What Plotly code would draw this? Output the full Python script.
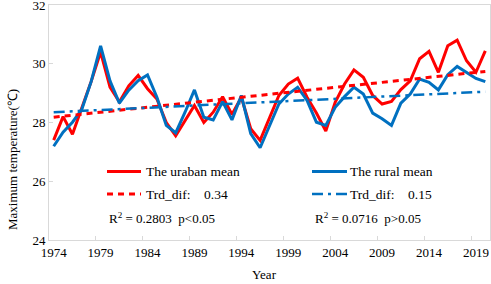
import plotly.graph_objects as go

years = list(range(1974, 2021))
urban = [27.4, 28.2, 27.6, 28.5, 29.4, 30.4, 29.2, 28.7, 29.25, 29.6,
         29.15, 28.8, 28.0, 27.55, 28.07, 28.58, 28.0, 28.35, 28.88, 28.27,
         28.86, 27.79, 27.39, 28.18, 28.92, 29.31, 29.51, 28.86, 28.32, 27.71,
         28.69, 29.31, 29.79, 29.54, 28.92, 28.63, 28.72, 29.12, 29.42, 30.17,
         30.42, 29.71, 30.61, 30.8, 30.1, 29.71, 30.44]
rural = [27.19, 27.67, 28.01, 28.45, 29.4, 30.61, 29.42, 28.66, 29.1, 29.42,
         29.62, 28.86, 27.9, 27.65, 28.35, 29.11, 28.18, 28.09, 28.71, 28.09,
         28.92, 27.62, 27.14, 27.9, 28.63, 28.97, 29.2, 28.75, 28.01, 27.9,
         28.52, 28.88, 29.2, 28.97, 28.32, 28.13, 27.9, 28.66, 28.97, 29.48,
         29.37, 29.11, 29.63, 29.91, 29.71, 29.5, 29.39]
trend_years = [1974, 2020]
urban_trend = [28.18, 29.74]
rural_trend = [28.35, 29.05]

tick_years = [1974, 1979, 1984, 1989, 1994, 1999, 2004, 2009, 2014, 2019]
y_ticks = [24, 26, 28, 30, 32]

RED = "#FF0000"
BLUE = "#0070C0"
FONT = "Liberation Serif"

fig = go.Figure()
fig.add_trace(go.Scatter(x=years, y=urban, mode="lines",
                         line=dict(color=RED, width=3), name="The uraban mean"))
fig.add_trace(go.Scatter(x=years, y=rural, mode="lines",
                         line=dict(color=BLUE, width=3), name="The rural mean"))
fig.add_trace(go.Scatter(x=trend_years, y=urban_trend, mode="lines",
                         line=dict(color=RED, width=3, dash="6px,5px")))
fig.add_trace(go.Scatter(x=trend_years, y=rural_trend, mode="lines",
                         line=dict(color=BLUE, width=2.5, dash="11px,5px,3px,5px")))

L, R, T, B = 49, 490, 5, 240
W, H = R - L, B - T


def px(x):
    return (x - L) / W


def py(y):
    return (B - y) / H


samples = [
    (107, 141, 171.5, RED, "solid", 3),
    (107, 141, 194, RED, "6px,5px", 3),
    (312, 347, 171.5, BLUE, "solid", 3),
    (312, 347, 194, BLUE, "11px,5px,3px,5px", 2.5),
]
for x0, x1, yy, c, d, w in samples:
    fig.add_shape(type="line", xref="paper", yref="paper",
                  x0=px(x0), x1=px(x1), y0=py(yy), y1=py(yy),
                  line=dict(color=c, width=w, dash=d))

texts = [
    (144, 171.5, "The uraban mean", 13.5),
    (144, 194, "Trd_dif:\u00a0\u00a0\u00a0\u00a00.34", 13.5),
    (107, 218, "R<sup>2</sup> = 0.2803\u00a0\u00a0p&lt;0.05", 13),
    (348, 171.5, "The rural mean", 13.5),
    (348, 194, "Trd_dif:\u00a0\u00a0\u00a0\u00a00.15", 13.5),
    (313, 218, "R<sup>2</sup> = 0.0716\u00a0\u00a0p&gt;0.05", 13),
]
for x, y, t, s in texts:
    fig.add_annotation(x=px(x), y=py(y), xref="paper", yref="paper",
                       text=t, showarrow=False, xanchor="left", yanchor="middle",
                       font=dict(family=FONT, size=s, color="black"))

fig.add_annotation(x=px(12), y=py(160), xref="paper", yref="paper",
                   text="Maximum temperature(℃)", textangle=-90, showarrow=False,
                   xanchor="center", yanchor="middle",
                   font=dict(family=FONT, size=13, color="black"))
fig.add_annotation(x=px(264), y=py(274), xref="paper", yref="paper",
                   text="Year", showarrow=False, xanchor="center", yanchor="middle",
                   font=dict(family=FONT, size=13, color="black"))

fig.update_xaxes(range=[1973.5, 2020.5], tickvals=tick_years,
                 ticktext=[str(v) for v in tick_years], ticks="",
                 automargin=False, ticklabeloverflow="allow",
                 showgrid=False, zeroline=False, showline=True, mirror=True,
                 linecolor="#D9D9D9", linewidth=1,
                 tickfont=dict(family=FONT, size=13, color="black"),
                 minor=dict(tickvals=[v - 0.5 for v in tick_years[1:]],
                            ticks="inside", ticklen=4, tickcolor="#D9D9D9",
                            showgrid=False))
fig.update_yaxes(range=[24, 32], tickvals=y_ticks, ticks="inside", ticklen=4,
                 automargin=False, ticklabeloverflow="allow",
                 tickcolor="#D9D9D9", showgrid=False, zeroline=False,
                 showline=True, mirror=True, linecolor="#D9D9D9", linewidth=1,
                 tickfont=dict(family=FONT, size=13, color="black"))

fig.update_layout(width=491, height=284, showlegend=False,
                  font=dict(family=FONT, color="black"),
                  margin=dict(l=L, r=491 - R, t=T, b=284 - B),
                  plot_bgcolor="white", paper_bgcolor="white")

fig.write_html("out.html", config={"displayModeBar": False})

with open("out.html", "r", encoding="utf-8") as f:
    html = f.read()
html = html.replace("<head>", "<head><style>html,body{margin:0;padding:0;overflow:hidden;}</style>", 1)
with open("out.html", "w", encoding="utf-8") as f:
    f.write(html)
